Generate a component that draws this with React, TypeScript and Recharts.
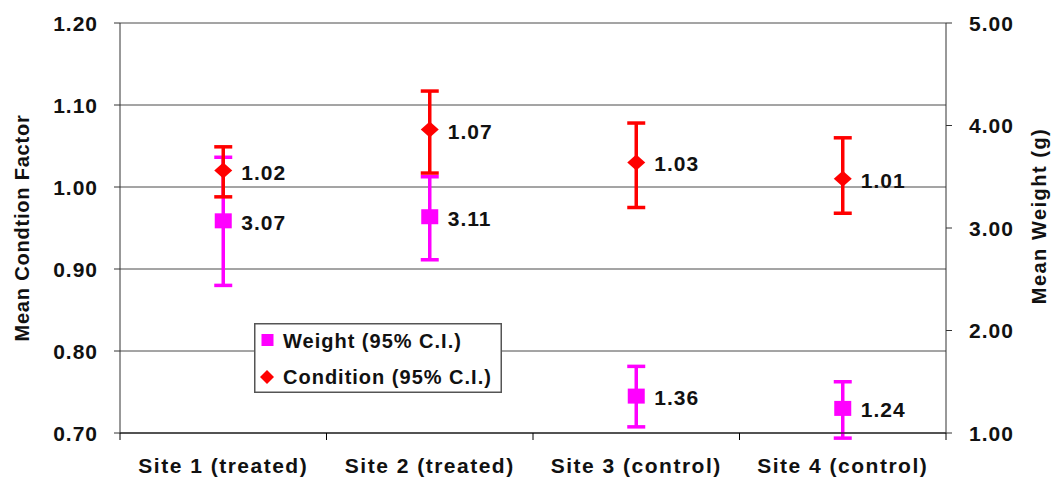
import {
  CartesianGrid,
  ComposedChart,
  ErrorBar,
  LabelList,
  Legend,
  Line,
  XAxis,
  YAxis,
} from "recharts"

const sites = [
  "Site 1 (treated)",
  "Site 2 (treated)",
  "Site 3 (control)",
  "Site 4 (control)",
]

// condition factor (left axis)
const conditionMean = [1.02, 1.07, 1.03, 1.01]
const conditionLow = [0.988, 1.017, 0.975, 0.968]
const conditionHigh = [1.049, 1.117, 1.078, 1.06]

// weight in g (right axis)
const weightMean = [3.07, 3.11, 1.36, 1.24]
const weightLow = [2.44, 2.69, 1.06, 0.95]
const weightHigh = [3.69, 3.5, 1.65, 1.5]

const conditionTicks = [0.7, 0.8, 0.9, 1.0, 1.1, 1.2]
const weightTicks = [1, 2, 3, 4, 5]

const data = sites.map((site, i) => ({
  site,
  condition: conditionMean[i],
  conditionCI: [conditionMean[i] - conditionLow[i], conditionHigh[i] - conditionMean[i]],
  weight: weightMean[i],
  weightCI: [weightMean[i] - weightLow[i], weightHigh[i] - weightMean[i]],
}))

const FONT = '"Liberation Sans", Arial, Helvetica, sans-serif'
const PINK = "#FF00FF"
const RED = "#FF0000"
const INK = "#111"

const textStyle = {
  fontFamily: FONT,
  fontWeight: 700,
  fill: INK,
}

const SiteTick = (props: any) => {
  const { x, y, payload, index, visibleTicksCount } = props
  const half = payload.offset ?? 0
  return (
    <g>
      <line x1={x - half} x2={x - half} y1={y} y2={y + 7} stroke="#000" />
      {index === visibleTicksCount - 1 && (
        <line x1={x + half} x2={x + half} y1={y} y2={y + 7} stroke="#000" />
      )}
      <text x={x} y={y + 40} textAnchor="middle" fontSize={21} letterSpacing={1.5} {...textStyle}>
        {payload.value}
      </text>
    </g>
  )
}

const LeftTick = (props: any) => {
  const { x, y, payload } = props
  return (
    <text x={x} y={y + 7.5} textAnchor="end" fontSize={21} letterSpacing={1} {...textStyle}>
      {Number(payload.value).toFixed(2)}
    </text>
  )
}

const RightTick = (props: any) => {
  const { x, y, payload } = props
  return (
    <text x={x} y={y + 7.5} textAnchor="start" fontSize={21} letterSpacing={1} {...textStyle}>
      {Number(payload.value).toFixed(2)}
    </text>
  )
}

const LeftTitle = (props: any) => {
  const vb = props.viewBox
  const cx = vb.x + 22
  const cy = vb.y + vb.height / 2
  return (
    <text
      x={cx}
      y={cy}
      transform={`rotate(-90, ${cx}, ${cy})`}
      textAnchor="middle"
      dominantBaseline="central"
      fontSize={20}
      letterSpacing={0.8}
      {...textStyle}
    >
      Mean Condtion Factor
    </text>
  )
}

const RightTitle = (props: any) => {
  const vb = props.viewBox
  const cx = vb.x + 93
  const cy = vb.y + vb.height / 2 - 12
  return (
    <text
      x={cx}
      y={cy}
      transform={`rotate(-90, ${cx}, ${cy})`}
      textAnchor="middle"
      dominantBaseline="central"
      fontSize={20}
      letterSpacing={1.5}
      {...textStyle}
    >
      Mean Weight (g)
    </text>
  )
}

const Square = (props: any) => {
  const { cx, cy, index } = props
  if (cx == null || cy == null) return <g key={`sq-${index}`} />
  return <rect key={`sq-${index}`} x={cx - 8.5} y={cy - 7.5} width={17} height={15} fill={PINK} />
}

const Diamond = (props: any) => {
  const { cx, cy, index } = props
  if (cx == null || cy == null) return <g key={`dm-${index}`} />
  return (
    <path
      key={`dm-${index}`}
      d={`M${cx},${cy - 8} L${cx + 9},${cy} L${cx},${cy + 8} L${cx - 9},${cy} Z`}
      fill={RED}
    />
  )
}

const ValueLabel = (props: any) => {
  const vb = props.viewBox ?? {}
  const x = props.x ?? vb.x
  const y = props.y ?? vb.y
  if (x == null || y == null) return null
  return (
    <text x={x + 18} y={y + 9} fontSize={21} letterSpacing={1} {...textStyle}>
      {Number(props.value).toFixed(2)}
    </text>
  )
}

const LegendBox = () => (
  <svg width={248} height={70}>
    <rect x={0.75} y={0.75} width={246.5} height={68.5} fill="#fff" stroke="#555" strokeWidth={1.5} />
    <rect x={7.5} y={11} width={12} height={12} fill={PINK} />
    <text x={29} y={24.5} fontSize={20} letterSpacing={1} {...textStyle}>
      Weight (95% C.I.)
    </text>
    <path d="M13,47 L20,54 L13,61 L6,54 Z" fill={RED} />
    <text x={29} y={61} fontSize={20} letterSpacing={1} {...textStyle}>
      Condition (95% C.I.)
    </text>
  </svg>
)

export default function App() {
  return (
    <div
      style={{
        position: "absolute",
        left: 0,
        top: 0,
        width: 1054,
        height: 479,
        background: "#fff",
      }}
    >
      <ComposedChart
        width={1054}
        height={479}
        data={data}
        margin={{ top: 23, right: 0, bottom: 0, left: 0 }}
      >
        <CartesianGrid yAxisId="left" vertical={false} stroke="#4a4a4a" />
        <XAxis
          dataKey="site"
          scale="band"
          height={46}
          stroke="#000"
          tickLine={false}
          tickSize={0}
          tickMargin={0}
          interval={0}
          tick={(p: any) => <SiteTick {...p} />}
        />
        <YAxis
          yAxisId="left"
          width={120}
          domain={[0.7, 1.2]}
          allowDataOverflow
          ticks={conditionTicks}
          stroke="#333"
          tickSize={6}
          tickMargin={16}
          interval={0}
          tick={(p: any) => <LeftTick {...p} />}
          label={(p: any) => <LeftTitle {...p} />}
        />
        <YAxis
          yAxisId="right"
          orientation="right"
          width={108}
          domain={[1, 5]}
          allowDataOverflow
          ticks={weightTicks}
          stroke="#333"
          tickSize={6}
          tickMargin={17}
          interval={0}
          tick={(p: any) => <RightTick {...p} />}
          label={(p: any) => <RightTitle {...p} />}
        />
        <Legend
          layout="vertical"
          align="center"
          verticalAlign="middle"
          wrapperStyle={{ left: 254, top: 323, width: 248, height: 70 }}
          content={() => <LegendBox />}
        />
        <Line
          yAxisId="right"
          dataKey="weight"
          name="Weight (95% C.I.)"
          stroke="none"
          strokeWidth={0}
          dot={(p: any) => <Square {...p} />}
          activeDot={false}
          isAnimationActive={false}
        >
          <ErrorBar
            dataKey="weightCI"
            direction="y"
            width={9}
            strokeWidth={3.5}
            stroke={PINK}
            isAnimationActive={false}
          />
          <LabelList dataKey="weight" content={(p: any) => <ValueLabel {...p} />} />
        </Line>
        <Line
          yAxisId="left"
          dataKey="condition"
          name="Condition (95% C.I.)"
          stroke="none"
          strokeWidth={0}
          dot={(p: any) => <Diamond {...p} />}
          activeDot={false}
          isAnimationActive={false}
        >
          <ErrorBar
            dataKey="conditionCI"
            direction="y"
            width={9}
            strokeWidth={3.5}
            stroke={RED}
            isAnimationActive={false}
          />
          <LabelList dataKey="condition" content={(p: any) => <ValueLabel {...p} />} />
        </Line>
      </ComposedChart>
    </div>
  )
}
